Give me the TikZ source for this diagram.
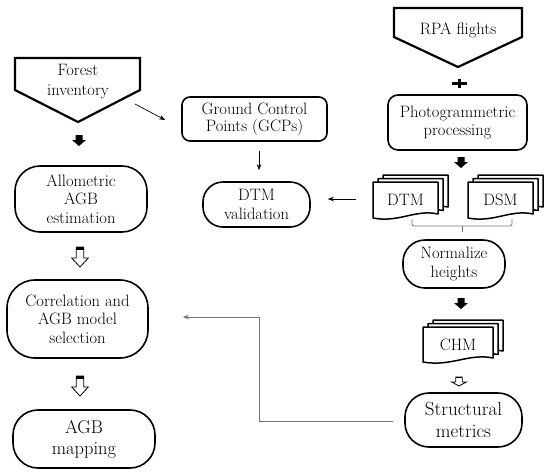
\documentclass[tikz,border=0pt]{standalone}
\usetikzlibrary{arrows.meta,calc}
\newcommand\docpage[4]{\path[doc] (#1,#2) -- (#3,#2) -- (#3,{#4-4}) .. controls ({#3-0.35*(#3-#1)},{#4-9}) and ({#1+0.4*(#3-#1)},{#4+5}) .. (#1,#4) -- cycle;}
\newcommand\docstack[4]{\docpage{#1+10}{#2-7}{#3+10}{#4-7}\docpage{#1+5}{#2-3.5}{#3+5}{#4-3.5}\docpage{#1}{#2}{#3}{#4}}
\begin{document}
\begin{tikzpicture}[x=1pt,y=-1pt,
  txt/.style={align=center, font=\fontsize{16.5}{18.5}\selectfont, inner sep=0pt},
  box/.style={txt, draw, line width=1.6pt},
  bigtxt/.style={font=\fontsize{18.5}{21}\selectfont},
  pent/.style={draw, line width=2.2pt, line join=miter},
  doc/.style={draw, fill=white, line width=1.5pt, line join=round},
  thinarrow/.style={line width=0.7pt, -{Stealth[length=6pt,width=4.5pt]}},
  gconn/.style={draw=black!55, line width=0.9pt},
  blkarrow/.pic={\fill (-3.5,0) -- (3.5,0) -- (3.5,5) -- (7,5) -- (0,11) -- (-7,5) -- (-3.5,5) -- cycle;},
  holarrow/.pic={\draw[line width=0.8pt, fill=white, line join=miter] (-3.7,0) -- (3.7,0) -- (3.7,11) -- (8.3,11) -- (0,20) -- (-8.3,11) -- (-3.7,11) -- cycle;
                 \fill (-3.7,0) rectangle (3.7,3);},
  plussign/.pic={\fill (-7.5,-1.8) rectangle (7.5,1.8); \fill (-1.8,-4.5) rectangle (1.8,4.5);}
]
\useasboundingbox (0,0) rectangle (550,475);

% ---------- left column ----------
\path[pent] (15,58) -- (140,58) -- (140,90) -- (78,122) -- (15,90) -- cycle;
\node[txt, font=\fontsize{16.5}{20}\selectfont] (forest) at (78,82) {Forest\\inventory};
\coordinate (forestout) at (135,104);

\node[box, rounded corners=25pt, minimum width=132pt, minimum height=66pt] (allo) at (81,199) {Allometric\\AGB\\estimation};
\node[box, rounded corners=28pt, minimum width=141pt, minimum height=78pt] (corr) at (77.5,319) {Correlation and\\AGB model\\selection};
\node[box, bigtxt, rounded corners=25pt, minimum width=142pt, minimum height=58pt] (agbmap) at (84,439) {AGB\\mapping};

\pic at (79,135) {blkarrow};
\pic at (80,247) {holarrow};
\pic at (80,376) {holarrow};

% ---------- middle column ----------
\node[box, rounded corners=8pt, minimum width=145pt, minimum height=44pt, font=\fontsize{16.5}{17}\selectfont] (gcp) at (254.5,119) {Ground Control\\Points (GCPs)};
\node[box, rounded corners=20pt, minimum width=107pt, minimum height=45pt] (dtmval) at (256.5,204.5) {DTM\\validation};

\draw[thinarrow] (forestout) -- ([xshift=-16pt,yshift=-1pt]gcp.west);
\draw[thinarrow] ([xshift=4.5pt,yshift=-9pt]gcp.south) -- ([xshift=2.5pt,yshift=11pt]dtmval.north);

% ---------- right column ----------
\path[pent] (394,8) -- (522,8) -- (522,37) -- (458,67) -- (394,37) -- cycle;
\node[txt] (rpa) at (458,30) {RPA flights};
\pic at (459.5,83.5) {plussign};

\node[box, rounded corners=10pt, minimum width=139pt, minimum height=55pt] (photo) at (457.5,122.5) {Photogrammetric\\processing};
\pic at (461,157) {blkarrow};

\docstack{373}{182}{438}{218}
\node[txt, minimum width=65pt, minimum height=36pt] (dtm) at (405.5,200) {DTM};
\docstack{468}{182}{533}{218}
\node[txt, minimum width=65pt, minimum height=36pt] (dsm) at (500.5,200) {DSM};

\draw[thinarrow] ([xshift=-17pt,yshift=1pt]dtm.west) -- ([xshift=17pt,yshift=5.5pt]dtmval.east);

\draw[black!55, line width=0.8pt, rounded corners=2pt] (412,219) -- (412,226) -- (512,226) -- (512,219);
\draw[black!55, line width=0.8pt] (462,226) -- (462,232);

\node[box, rounded corners=22pt, minimum width=102pt, minimum height=48pt] (norm) at (454,264) {Normalize\\heights};
\pic at (461,298) {blkarrow};

\docstack{423}{327}{493}{362}
\node[txt, minimum width=70pt, minimum height=35pt] (chm) at (458,345) {CHM};

\pic[xscale=0.9, yscale=0.45] at (459,377) {holarrow};

\node[box, rounded corners=24pt, minimum width=117pt, minimum height=54pt, font=\fontsize{19}{22}\selectfont] (struct) at (463.5,420) {Structural\\metrics};

\coordinate (bend) at (259,317);
\draw[gconn, -{Stealth[length=6pt,width=4.5pt]}] ([xshift=-11pt,yshift=-1pt]struct.west) -| (bend) -- ([xshift=34pt,yshift=2pt]corr.east);
\end{tikzpicture}
\end{document}
